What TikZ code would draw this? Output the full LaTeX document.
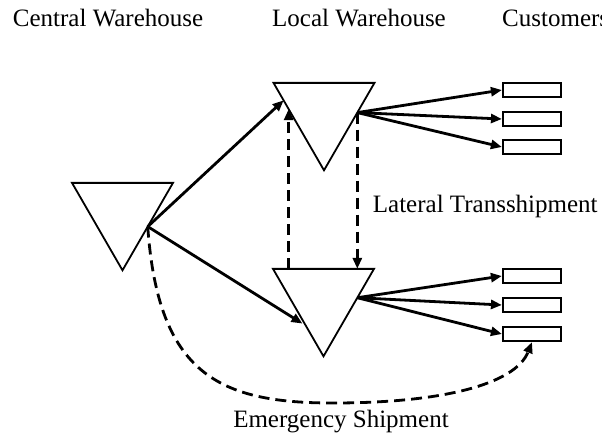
\documentclass[tikz,border=0pt]{standalone}
\usepackage{fontspec}
\setmainfont{Liberation Serif}
\usetikzlibrary{shapes.geometric,arrows.meta,calc}

\tikzset{
  depot/.style={regular polygon, regular polygon sides=3, shape border rotate=180,
    minimum size=116.6pt, inner sep=0pt, outer sep=0pt, draw, line width=1.8pt},
  custbox/.style={rectangle, draw, line width=2.2pt, minimum width=58pt,
    minimum height=14pt, inner sep=0pt},
  flow/.style={line width=2.8pt, -{Triangle[length=11pt,width=9pt]}},
  dflow/.style={flow, dash pattern=on 11pt off 6pt},
  lbl/.style={inner sep=0pt, font=\fontsize{25}{30}\selectfont}
}

\begin{document}
\begin{tikzpicture}[x=1pt, y=-1pt]
  \useasboundingbox (0,0) rectangle (602,437);

  % column headings
  \node[lbl, anchor=base west] (hcw) at (12.7,26.7) {Central Warehouse};
  \node[lbl, anchor=base west] (hlw) at (272,26.7) {Local Warehouse};
  \node[lbl, anchor=base west] (hcu) at (502,26.7) {Customers};

  % warehouses
  \node[depot] (cw) at (122.5,212) {};
  \node[depot] (lt) at (324,112) {};
  \node[depot] (lb) at (323.5,298) {};

  % customers
  \node[custbox] (c1) at (532,90) {};
  \node[custbox] (c2) at (532,119) {};
  \node[custbox] (c3) at (532,147) {};
  \node[custbox] (c4) at (532,276) {};
  \node[custbox] (c5) at (532,305) {};
  \node[custbox] (c6) at (532,334) {};

  % points on the triangle edges
  \coordinate (lto) at ($(lt.30)!0.34!(lt.270)$);
  \coordinate (lbo) at ($(lb.30)!0.33!(lb.270)$);
  \coordinate (ltin) at ($(lt.150)!0.2!(lt.270)$);
  \coordinate (ltl) at ($(lt.150)!0.3!(lt.270)$);
  \coordinate (lbin) at ($(lb.150)!0.65!(lb.270)$);

  % central to local
  \draw[flow] (cw.-30) -- (ltin);
  \draw[flow, shorten >=4pt] (cw.-30) -- (lbin);

  % local to customers
  \foreach \c in {c1,c2,c3} \draw[flow] (lto) -- (\c.west);
  \foreach \c in {c4,c5,c6} \draw[flow] (lbo) -- (\c.west);

  % lateral transshipment
  \draw[dflow] (ltl |- lb.90) -- (ltl);
  \draw[dflow] (lto) -- (lto |- lb.90);
  \node[lbl, anchor=base west] (llat) at (372.7,212) {Lateral Transshipment};

  % emergency shipment
  \draw[dflow] (cw.-30) .. controls (158,375) and (220,403) .. (333,403)
    .. controls (440,403) and (515,385) .. (c6.south);
  \node[lbl, anchor=base] (lem) at (341,427) {Emergency Shipment};
\end{tikzpicture}
\end{document}
